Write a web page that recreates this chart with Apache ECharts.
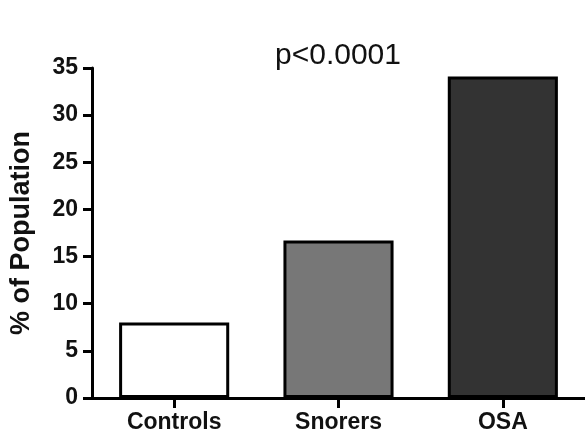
<!DOCTYPE html>
<html>
<head>
<meta charset="utf-8">
<script src="https://cdn.jsdelivr.net/npm/echarts@6/dist/echarts.min.js"></script>
<style>
html,body{margin:0;padding:0;background:#fff;}
#chart{width:585px;height:438px;}
</style>
</head>
<body>
<div id="chart"></div>
<script>
const categories = ['Controls', 'Snorers', 'OSA'];
const values = [8.0, 16.7, 34.1];
const barColors = ['#ffffff', '#777777', '#333333'];
const yTicks = [0, 5, 10, 15, 20, 25, 30, 35];

const chart = echarts.init(document.getElementById('chart'), null, {renderer: 'canvas'});
const font = 'Liberation Sans, Arial, Helvetica, sans-serif';
chart.setOption({
  animation: false,
  backgroundColor: '#ffffff',
  title: {
    text: 'p<0.0001',
    left: 333,
    top: 36,
    textAlign: 'center',
    textStyle: {fontFamily: font, fontSize: 30, fontWeight: 'normal', color: '#111'}
  },
  grid: {left: 90, top: 68, bottom: 40, width: 497, containLabel: false},
  xAxis: {
    type: 'category',
    data: categories,
    axisLine: {lineStyle: {color: '#000', width: 3}},
    axisTick: {show: true, alignWithLabel: true, length: 10, lineStyle: {color: '#000', width: 3}},
    axisLabel: {margin: 13, fontFamily: font, fontSize: 23, fontWeight: 'bold', color: '#111'}
  },
  yAxis: {
    type: 'value',
    min: yTicks[0],
    max: yTicks[yTicks.length - 1],
    interval: 5,
    name: '% of Population',
    nameLocation: 'middle',
    nameGap: 57,
    nameTextStyle: {fontFamily: font, fontSize: 27, fontWeight: 'bold', color: '#111'},
    axisLine: {show: true, lineStyle: {color: '#000', width: 3}},
    axisTick: {show: true, length: 9, lineStyle: {color: '#000', width: 3}},
    axisLabel: {margin: 14, fontFamily: font, fontSize: 23, fontWeight: 'bold', color: '#111'},
    splitLine: {show: false}
  },
  series: [{
    type: 'bar',
    data: values.map((v, i) => ({value: v, itemStyle: {color: barColors[i]}})),
    barWidth: '67%',
    itemStyle: {borderColor: '#000', borderWidth: 3}
  }]
});
</script>
</body>
</html>
